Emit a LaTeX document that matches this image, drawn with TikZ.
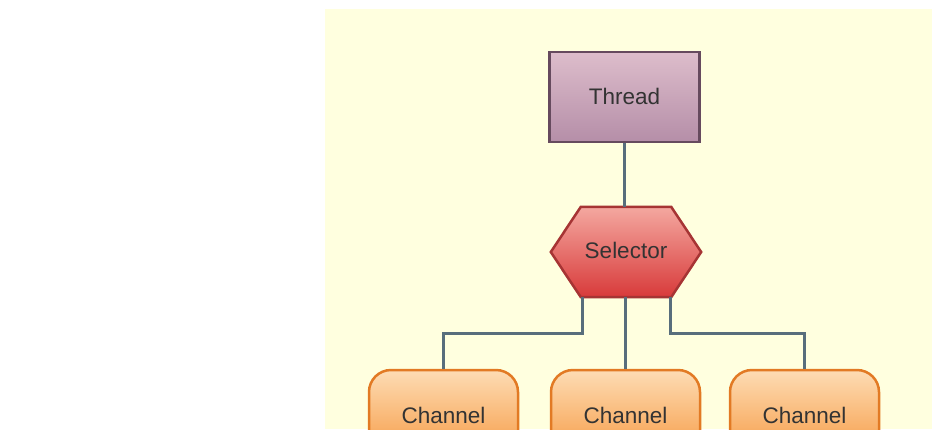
\documentclass[tikz,border=0pt]{standalone}
\usepackage{fontspec}
\setmainfont{Liberation Sans}
\usetikzlibrary{calc}
\definecolor{bgyellow}{HTML}{FFFFDF}
\definecolor{thrtop}{HTML}{DDBDCB}
\definecolor{thrbot}{HTML}{B58EA8}
\definecolor{thrline}{HTML}{664A5E}
\definecolor{seltop}{HTML}{F4A8A0}
\definecolor{selbot}{HTML}{D83A3A}
\definecolor{selline}{HTML}{A63434}
\definecolor{chtop}{HTML}{FDDCB4}
\definecolor{chbot}{HTML}{F69840}
\definecolor{chline}{HTML}{E27A24}
\definecolor{wire}{HTML}{586E7C}
\definecolor{txt}{HTML}{333333}
\begin{document}
\begin{tikzpicture}[x=1pt,y=-1pt,
  lbl/.style={font=\fontsize{22.5}{27}\selectfont, text=txt},
  thrbox/.style={lbl, draw=thrline, line width=2.5pt, top color=thrtop, bottom color=thrbot,
    minimum width=150pt, minimum height=90pt, inner sep=0pt},
  chbox/.style={lbl, draw=chline, line width=2.5pt, top color=chtop, bottom color=chbot,
    rounded corners=22pt, minimum width=149pt, minimum height=90pt, inner sep=0pt},
  selframe/.style={lbl, minimum width=150pt, minimum height=90pt, inner sep=0pt},
  wireline/.style={draw=wire, line width=3pt}]
\useasboundingbox (0,0) rectangle (935,429);
\clip (0,0) rectangle (935,429);
\fill[bgyellow] (325,9) rectangle (932,429);
% nodes
\node[thrbox] (thr) at (624.5,97) {\raisebox{2pt}{Thread}};
\node[selframe] (sel) at (626,252) {};
\path[draw=selline, line width=2.5pt, top color=seltop, bottom color=selbot]
  (sel.west) -- ($(sel.north west)+(30,0)$) -- ($(sel.north east)+(-30,0)$)
  -- (sel.east) -- ($(sel.south east)+(-30,0)$) -- ($(sel.south west)+(30,0)$) -- cycle;
\node[lbl] (seltext) at ($(sel)+(0,-2)$) {Selector};
\node[chbox] (ch1) at (443.5,415) {Channel};
\node[chbox] (ch2) at (625.5,415) {Channel};
\node[chbox] (ch3) at (804.5,415) {Channel};
% connectors
\coordinate (s1) at ($(sel.south)+(-44,0)$);
\coordinate (s3) at ($(sel.south)+(44,0)$);
\draw[wireline] (thr.south) -- (thr.south |- sel.north);
\draw[wireline] (s1) -- ($(s1)+(0,36)$) -| (ch1.north);
\draw[wireline] (sel.south -| ch2.north) -- (ch2.north);
\draw[wireline] (s3) -- ($(s3)+(0,36)$) -| (ch3.north);
\end{tikzpicture}
\end{document}
